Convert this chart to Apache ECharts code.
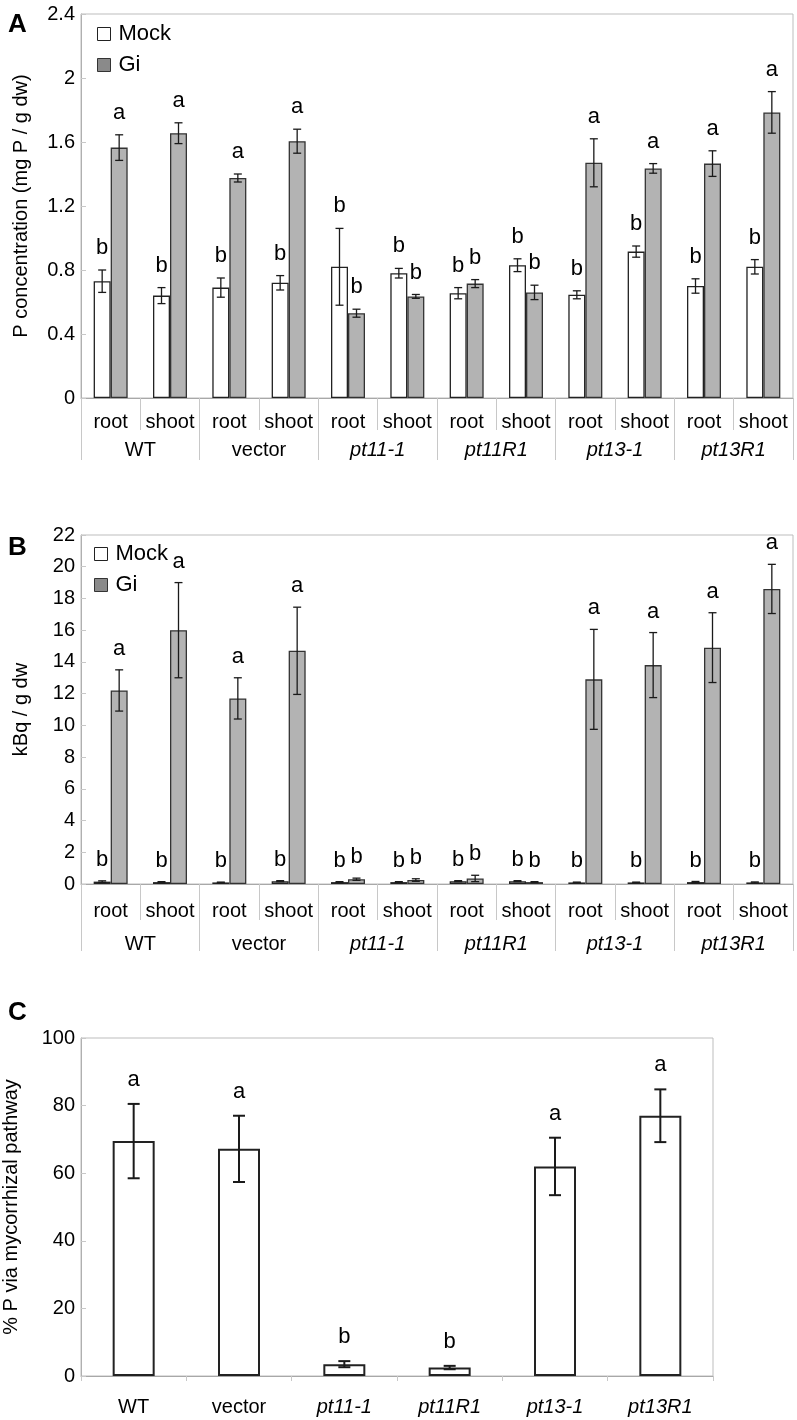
<!DOCTYPE html>
<html><head><meta charset="utf-8">
<script src="https://cdn.jsdelivr.net/npm/echarts@6/dist/echarts.min.js"></script>
<style>html,body{margin:0;padding:0;background:#fff}#c{width:797px;height:1420px}</style>
</head><body><div id="c"></div>
<script>
const tissues = ['root','shoot','root','shoot','root','shoot','root','shoot','root','shoot','root','shoot'];
const lines = ['WT','vector','pt11-1','pt11R1','pt13-1','pt13R1'];
const italicLines = ['pt11-1','pt11R1','pt13-1','pt13R1'];

// Panel A: P concentration (mg P / g dw)
const aMock = [0.73,0.64,0.69,0.72,0.82,0.78,0.655,0.83,0.645,0.915,0.70,0.82];
const aMockErr = [0.07,0.05,0.06,0.045,0.24,0.03,0.035,0.04,0.025,0.035,0.045,0.045];
const aMockLetters = ['b','b','b','b','b','b','b','b','b','b','b','b'];
const aGi = [1.565,1.655,1.375,1.605,0.53,0.635,0.715,0.66,1.47,1.435,1.465,1.785];
const aGiErr = [0.08,0.065,0.025,0.075,0.025,0.012,0.025,0.045,0.15,0.03,0.08,0.13];
const aGiLetters = ['a','a','a','a','b','b','b','b','a','a','a','a'];

// Panel B: kBq / g dw
const bMock = [0.15,0.12,0.1,0.18,0.12,0.12,0.18,0.18,0.1,0.1,0.12,0.1];
const bMockErr = [0.05,0.03,0.02,0.03,0.03,0.03,0.03,0.03,0.02,0.02,0.04,0.03];
const bMockLetters = ['b','b','b','b','b','b','b','b','b','b','b','b'];
const bGi = [12.2,16.0,11.7,14.7,0.3,0.25,0.35,0.12,12.9,13.8,14.9,18.6];
const bGiErr = [1.3,3.0,1.3,2.75,0.07,0.08,0.2,0.03,3.15,2.05,2.2,1.55];
const bGiLetters = ['a','a','a','a','b','b','b','b','a','a','a','a'];

// Panel C: % P via mycorrhizal pathway
const cPct = [69.5,67.2,3.5,2.5,62,77];
const cErr = [11,9.8,0.9,0.5,8.5,7.8];
const cLetters = ['a','a','b','b','a','a'];

const FONT = 'Liberation Sans, Arial, sans-serif';
const lineFmt = v => italicLines.indexOf(v) >= 0 ? '{i|' + v + '}' : '{n|' + v + '}';
const richLbl = {i:{fontStyle:'italic',fontSize:20,fontFamily:FONT,color:'#000'}, n:{fontSize:20,fontFamily:FONT,color:'#000'}};

function errSeries(xi, yi, vals, errs, letters, shift, capHalf, lw, gap) {
  return {
    type:'custom', xAxisIndex:xi, yAxisIndex:yi, z:10, silent:true,
    encode:{x:0, y:1},
    data: vals.map((v,i)=>[i, v, errs[i]]),
    renderItem(params, api) {
      const i = api.value(0), v = api.value(1), e = api.value(2);
      const c = api.coord([i, v]);
      const t = api.coord([i, v + e]);
      const b = api.coord([i, Math.max(v - e, 0)]);
      const x = c[0] + shift;
      const st = {stroke:'#1a1a1a', lineWidth:lw};
      return {type:'group', children:[
        {type:'line', shape:{x1:x,y1:t[1],x2:x,y2:b[1]}, style:st},
        {type:'line', shape:{x1:x-capHalf,y1:t[1],x2:x+capHalf,y2:t[1]}, style:st},
        {type:'line', shape:{x1:x-capHalf,y1:b[1],x2:x+capHalf,y2:b[1]}, style:st},
        {type:'text', style:{text:letters[params.dataIndex], x:x, y:t[1]-gap, align:'center', verticalAlign:'middle', font:'22px ' + FONT, fill:'#000'}}
      ]};
    }
  };
}

function yAx(gi, max, interval, name, nameGap) {
  return {
    type:'value', gridIndex:gi, min:0, max:max, interval:interval,
    name:name, nameLocation:'middle', nameGap:nameGap,
    nameTextStyle:{fontSize:20, fontFamily:FONT, color:'#000'},
    axisLine:{show:true, lineStyle:{color:'#b0b0b0'}},
    axisTick:{show:true, inside:true, length:5, lineStyle:{color:'#c8c8c8'}},
    axisLabel:{fontSize:20, fontFamily:FONT, color:'#000', margin:6},
    splitLine:{show:false}
  };
}

function subAx(gi, shortLen, margin) {
  return {
    type:'category', gridIndex:gi, data:tissues, position:'bottom',
    axisLine:{show:true, lineStyle:{color:'#a8a8a8'}},
    axisTick:{show:true, interval:0, length:shortLen, lineStyle:{color:'#c8c8c8'}},
    axisLabel:{interval:0, fontSize:20, fontFamily:FONT, color:'#000', margin:margin}
  };
}
function grpAx(gi, longLen, margin) {
  return {
    type:'category', gridIndex:gi, data:lines, position:'bottom',
    axisLine:{show:false},
    axisTick:{show:true, interval:0, length:longLen, lineStyle:{color:'#c8c8c8'}},
    axisLabel:{interval:0, margin:margin, formatter:lineFmt, rich:richLbl}
  };
}

const mockStyle = {color:'#ffffff', borderColor:'#222', borderWidth:1.3};
const giStyle = {color:'#b3b3b3', borderColor:'#333', borderWidth:1.3};
const legendData = [
  {name:'Mock', icon:'rect', itemStyle:{color:'#fff', borderColor:'#222', borderWidth:1}},
  {name:'Gi', icon:'rect', itemStyle:{color:'#8a8a8a', borderColor:'#333', borderWidth:1}}
];

const option = {
  animation:false,
  backgroundColor:'#fff',
  title:[
    {text:'A', left:3, top:7, textStyle:{fontSize:26, fontWeight:'bold', color:'#000', fontFamily:FONT}},
    {text:'B', left:3, top:530, textStyle:{fontSize:26, fontWeight:'bold', color:'#000', fontFamily:FONT}},
    {text:'C', left:3, top:995, textStyle:{fontSize:26, fontWeight:'bold', color:'#000', fontFamily:FONT}}
  ],
  legend:[
    {left:97, top:23, orient:'vertical', itemWidth:13, itemHeight:13, itemGap:9, padding:0,
     textStyle:{fontSize:22, fontFamily:FONT, color:'#000', padding:[0,0,0,3]},
     data:legendData},
    {left:94, top:543, orient:'vertical', itemWidth:13, itemHeight:13, itemGap:9, padding:0,
     textStyle:{fontSize:22, fontFamily:FONT, color:'#000', padding:[0,0,0,3]},
     data:legendData}
  ],
  grid:[
    {left:81, top:14, width:712, height:384, show:true, borderColor:'#bdbdbd', borderWidth:1, containLabel:false, outerBoundsMode:'none'},
    {left:81, top:535, width:712, height:349, show:true, borderColor:'#bdbdbd', borderWidth:1, containLabel:false, outerBoundsMode:'none'},
    {left:81, top:1038, width:632, height:338, show:true, borderColor:'#bdbdbd', borderWidth:1, containLabel:false, outerBoundsMode:'none'}
  ],
  xAxis:[
    subAx(0, 32, 14), grpAx(0, 62, 42),
    subAx(1, 36, 17), grpAx(1, 67, 50),
    {type:'category', gridIndex:2, data:lines, position:'bottom',
     axisLine:{show:true, lineStyle:{color:'#a8a8a8'}},
     axisTick:{show:true, interval:0, length:5, lineStyle:{color:'#c8c8c8'}},
     axisLabel:{interval:0, margin:21, formatter:lineFmt, rich:richLbl}}
  ],
  yAxis:[
    yAx(0, 2.4, 0.4, 'P concentration (mg P / g dw)', 50),
    yAx(1, 22, 2, 'kBq / g dw', 50),
    yAx(2, 100, 20, '% P via mycorrhizal pathway', 60)
  ],
  series:[
    {name:'Mock', type:'bar', xAxisIndex:0, yAxisIndex:0, data:aMock, barWidth:17, barGap:'0%', itemStyle:mockStyle},
    {name:'Gi', type:'bar', xAxisIndex:0, yAxisIndex:0, data:aGi, barWidth:17, barGap:'0%', itemStyle:giStyle},
    errSeries(0, 0, aMock, aMockErr, aMockLetters, -8.5, 4, 1.3, 22),
    errSeries(0, 0, aGi, aGiErr, aGiLetters, 8.5, 4, 1.3, 22),
    {name:'Mock', type:'bar', xAxisIndex:2, yAxisIndex:1, data:bMock, barWidth:17, barGap:'0%', itemStyle:mockStyle},
    {name:'Gi', type:'bar', xAxisIndex:2, yAxisIndex:1, data:bGi, barWidth:17, barGap:'0%', itemStyle:giStyle},
    errSeries(2, 1, bMock, bMockErr, bMockLetters, -8.5, 4, 1.3, 21),
    errSeries(2, 1, bGi, bGiErr, bGiLetters, 8.5, 4, 1.3, 21),
    {name:'pct', type:'bar', xAxisIndex:4, yAxisIndex:2, data:cPct, barWidth:42, itemStyle:{color:'#fff', borderColor:'#222', borderWidth:2}},
    errSeries(4, 2, cPct, cErr, cLetters, 0, 6, 2, 24)
  ]
};
const chart = echarts.init(document.getElementById('c'), null, {renderer:'canvas'});
chart.setOption(option);
</script>
</body></html>
